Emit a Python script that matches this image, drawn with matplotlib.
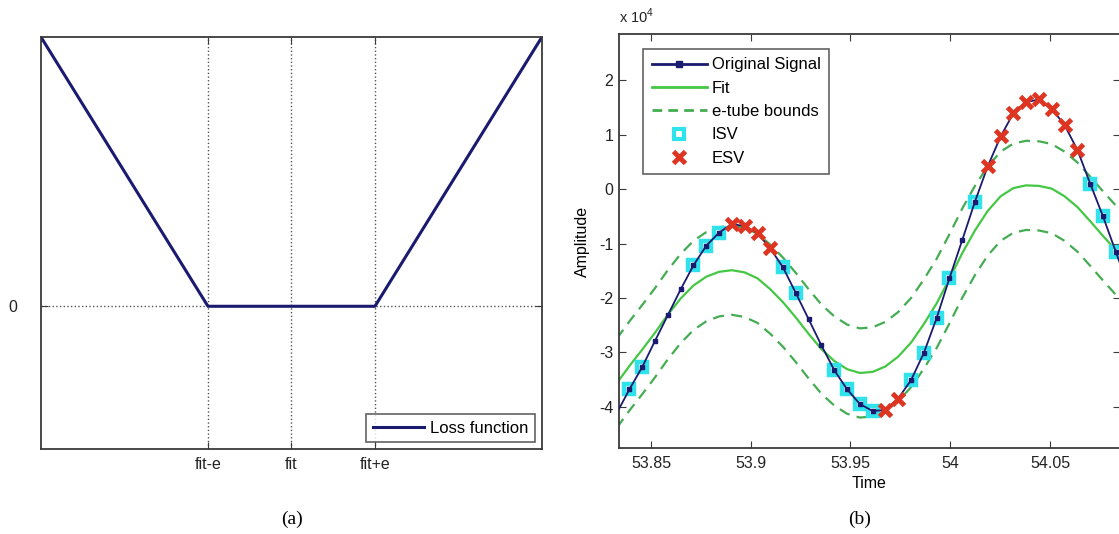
import matplotlib.pyplot as plt
from matplotlib.lines import Line2D

plt.rcParams['font.family'] = ['Liberation Sans', 'DejaVu Sans']
plt.rcParams['mathtext.fontset'] = 'custom'
plt.rcParams['mathtext.rm'] = 'Liberation Sans'
plt.rcParams['axes.unicode_minus'] = False

# (a) epsilon-insensitive loss
loss_x = [-3, -1, 1, 3]
loss_y = [2, 0, 0, 2]
loss_ticks = [-1, 0, 1]
loss_ticklabels = ['fit-e', 'fit', 'fit+e']

# (b) signal, amplitude in units of 1e4
time = [53.8328, 53.8392, 53.8456, 53.8520, 53.8584, 53.8649, 53.8713, 53.8777,
        53.8841, 53.8905, 53.8969, 53.9034, 53.9098, 53.9162, 53.9226, 53.9290,
        53.9354, 53.9419, 53.9483, 53.9547, 53.9611, 53.9675, 53.9739, 53.9804,
        53.9868, 53.9932, 53.9996, 54.0060, 54.0124, 54.0188, 54.0253, 54.0317,
        54.0381, 54.0445, 54.0509, 54.0573, 54.0638, 54.0702, 54.0766, 54.0830,
        54.0894]
signal = [-4.12, -3.68, -3.27, -2.79, -2.32, -1.84, -1.40, -1.04, -0.80, -0.64,
          -0.68, -0.81, -1.09, -1.44, -1.91, -2.39, -2.87, -3.33, -3.68, -3.95,
          -4.08, -4.06, -3.85, -3.51, -3.01, -2.37, -1.64, -0.94, -0.23, 0.42,
          0.97, 1.40, 1.60, 1.65, 1.48, 1.18, 0.72, 0.10, -0.50, -1.15, -1.80]
fit = [-3.57, -3.25, -2.95, -2.64, -2.31, -2.01, -1.77, -1.61, -1.52, -1.49,
       -1.53, -1.64, -1.84, -2.08, -2.36, -2.66, -2.94, -3.16, -3.31, -3.38,
       -3.36, -3.26, -3.08, -2.82, -2.48, -2.10, -1.65, -1.18, -0.76, -0.40,
       -0.13, 0.02, 0.07, 0.06, 0.01, -0.13, -0.33, -0.59, -0.86, -1.12, -1.38]
eps = 0.82
# indices into time/signal
isv_idx = [1, 2, 6, 7, 8, 13, 14, 17, 18, 19, 20, 23, 24, 25, 26, 28, 37, 38, 39]
esv_idx = [9, 10, 11, 12, 21, 22, 29, 30, 31, 32, 33, 34, 35, 36]

time_ticks = [53.85, 53.9, 53.95, 54.0, 54.05]
time_ticklabels = ['53.85', '53.9', '53.95', '54', '54.05']
amp_ticks = [-4, -3, -2, -1, 0, 1, 2]

navy = '#1a1a70'
fit_green = '#44c844'
dash_green = '#44ad52'
cyan = '#30e2ea'
red = '#de3522'
edge = '#3a3a3a'

fig = plt.figure(figsize=(11.19, 5.34), dpi=100)
ax1 = fig.add_axes([0.0366, 0.1592, 0.4477, 0.7715])
ax2 = fig.add_axes([0.5529, 0.161, 0.4476, 0.775])

# ---- panel (a)
ax1.plot(loss_x, loss_y, color=navy, lw=2.2, label='Loss function')
ax1.set_xlim(-3, 3)
ax1.set_ylim(-1.06, 2)
ax1.set_xticks(loss_ticks, loss_ticklabels)
ax1.set_yticks([0], ['0'])
ax1.grid(True, linestyle=':', color='#555555', lw=1)
ax1.tick_params(axis='x', direction='in', length=5, top=True, labelsize=11.5, pad=6)
ax1.tick_params(axis='y', direction='in', length=5, right=True, labelsize=11.5, pad=17)
leg1 = ax1.legend(loc='lower right', fontsize=12, fancybox=False, edgecolor=edge,
                  handlelength=3.1, handletextpad=0.35, borderaxespad=0.4,
                  borderpad=0.4)
leg1.get_frame().set_linewidth(1.2)

# ---- panel (b)
upper = [f + eps for f in fit]
lower = [f - eps for f in fit]
ax2.plot(time, fit, color=fit_green, lw=1.6, zorder=2)
ax2.plot(time, upper, color=dash_green, lw=1.6, dashes=(5, 3.3), zorder=2)
ax2.plot(time, lower, color=dash_green, lw=1.6, dashes=(5, 3.3), zorder=2)
ax2.plot([time[i] for i in isv_idx], [signal[i] for i in isv_idx], ls='none',
         marker='s', ms=7.5, mfc='none', mec=cyan, mew=3.2, zorder=3)
ax2.plot(time, signal, color=navy, lw=1.3, marker='s', ms=3.4,
         markevery=slice(1, -1), zorder=4)
ax2.plot([time[i] for i in esv_idx], [signal[i] for i in esv_idx], ls='none',
         marker='x', ms=9, mec=red, mew=3.5, zorder=5)

ax2.set_xlim(53.8338, 54.0849)
ax2.set_ylim(-4.76, 2.85)
ax2.set_xticks(time_ticks, time_ticklabels)
ax2.set_yticks(amp_ticks, [str(v) for v in amp_ticks])
ax2.tick_params(axis='x', direction='in', length=5, top=True, labelsize=11.5, pad=6)
ax2.tick_params(axis='y', direction='in', length=5, right=True, labelsize=11.5, pad=4)
ax2.set_xlabel('Time', fontsize=11.5, labelpad=3)
ax2.set_ylabel('Amplitude', fontsize=11.5, labelpad=6)

handles = [
    Line2D([], [], color=navy, lw=2, marker='s', ms=4),
    Line2D([], [], color=fit_green, lw=2),
    Line2D([], [], color=dash_green, lw=2, dashes=(3.5, 2.2)),
    Line2D([], [], ls='none', marker='s', ms=7, mfc='none', mec=cyan, mew=3),
    Line2D([], [], ls='none', marker='x', ms=9, mec=red, mew=3.5),
]
labels = ['Original Signal', 'Fit', 'e-tube bounds', 'ISV', 'ESV']
leg2 = ax2.legend(handles, labels, loc='upper left', bbox_to_anchor=(0.049, 0.964),
                  borderaxespad=0, fontsize=12, fancybox=False, edgecolor=edge,
                  handlelength=3.3, handletextpad=0.3, labelspacing=0.5,
                  borderpad=0.5)
leg2.get_frame().set_linewidth(1.2)

for ax in (ax1, ax2):
    for s in ax.spines.values():
        s.set_color(edge)
        s.set_linewidth(1.3)
    ax.tick_params(colors=edge, labelcolor='#222222')

fig.text(619 / 1119, 1 - 16 / 534, r'x 10$^{\mathregular{4}}$', fontsize=10.5,
         color='#222222', ha='left', va='center')
fig.text(292 / 1119, 1 - 519 / 534, '(a)', family=['Liberation Serif'], fontsize=14,
         ha='center', va='center')
fig.text(860 / 1119, 1 - 519 / 534, '(b)', family=['Liberation Serif'], fontsize=14,
         ha='center', va='center')

fig.savefig('out.png', dpi=100)
